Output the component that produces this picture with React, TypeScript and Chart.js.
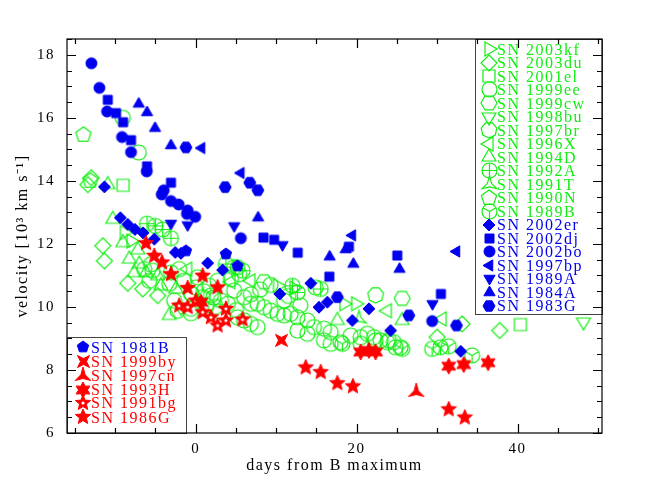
import React, { useEffect, useRef } from "react";
import { Chart, registerables } from "chart.js";
Chart.register(...registerables);

const GREEN = "#11ee11";
const BLUE = "#0000ee";
const RED = "#ff0000";

const xMajorTicks = [0, 20, 40];
const xMinorTicks = [-15, -10, -5, 0, 5, 10, 15, 20, 25, 30, 35, 40, 45, 50];
const yMajorTicks = [6, 8, 10, 12, 14, 16, 18];
const yMinorTicks = [6, 6.5, 7, 7.5, 8, 8.5, 9, 9.5, 10, 10.5, 11, 11.5, 12, 12.5, 13, 13.5, 14, 14.5, 15, 15.5, 16, 16.5, 17, 17.5, 18, 18.5];

// ---- red (faint) ----
const sn1999by = [[10.66, 8.94]];
const sn1997cn = [[27.41, 7.3]];
const sn1993H = [[0.65, 10.15], [20.5, 8.57], [21.53, 8.62], [22.36, 8.57], [31.45, 8.12], [33.31, 8.17], [36.34, 8.23]];
const sn1991bg = [[-2.05, 10.04], [-1.0, 9.99], [0.02, 10.2], [0.86, 9.83], [1.89, 9.67], [2.72, 9.41], [3.75, 9.57], [3.75, 9.94], [5.82, 9.6]];
const sn1986G = [[-6.18, 12.02], [-5.15, 11.62], [-4.19, 11.41], [-3.08, 11.04], [-1.0, 10.6], [0.86, 10.99], [2.72, 10.62], [13.67, 8.08], [15.53, 7.93], [17.6, 7.58], [19.54, 7.48], [31.45, 6.75], [33.44, 6.49]];

// ---- blue (HVG) ----
const sn2002er = [[-11.35, 13.81], [-9.37, 12.83], [-8.45, 12.62], [-7.54, 12.46], [-6.55, 12.35], [-5.15, 12.15], [-2.54, 11.73], [-1.84, 11.7], [1.48, 11.39], [3.34, 11.17], [10.45, 10.41], [14.3, 10.75], [15.32, 9.99], [16.36, 10.15], [19.47, 9.57], [21.53, 9.94], [24.22, 9.25], [32.94, 8.59]];
const sn2002dj = [[-10.93, 16.57], [-9.9, 16.15], [-9.03, 15.86], [-8.04, 15.29], [-6.05, 14.46], [-3.08, 13.94], [8.42, 12.2], [9.74, 12.13], [12.68, 11.72], [16.61, 10.96], [19.04, 11.91], [25.05, 11.63], [30.48, 10.41]];
const sn2002bo = [[-12.97, 17.73], [-11.97, 16.95], [-11.02, 16.2], [-9.16, 15.39], [-8.04, 14.91], [-6.09, 14.3], [-3.98, 13.7], [-4.23, 13.57], [-3.08, 13.36], [-2.12, 13.25], [-1.0, 13.06], [-1.09, 12.95], [-0.06, 12.86], [5.61, 12.18], [29.39, 9.55]];
const sn1997bp = [[0.73, 15.04], [5.61, 14.25], [19.47, 12.27], [32.41, 11.76]];
const sn1989A = [[-3.08, 12.65], [-1.0, 12.6], [4.78, 12.57], [10.78, 11.97], [29.43, 10.1]];
const sn1984A = [[-7.08, 16.44], [-6.05, 16.17], [-5.06, 15.67], [-3.08, 15.12], [7.75, 12.83], [16.65, 11.59], [18.64, 11.82], [19.59, 11.36], [25.33, 11.2]];
const sn1983G = [[-1.22, 15.06], [3.66, 13.8], [6.72, 13.94], [7.72, 13.7], [17.6, 10.31], [26.49, 9.73], [32.41, 9.41]];
const sn1981B = [[-1.22, 11.78], [3.75, 11.68], [5.2, 11.3]];

// ---- green (LVG) ----
const sn2003kf = [[-8.87, 12.36], [-8.04, 12.09], [10.16, 10.67], [12.22, 10.6], [18.42, 10.1], [19.88, 10.1]];
const sn2003du = [[-13.0, 14.1], [-13.41, 13.88], [-11.55, 11.94], [-11.35, 11.46], [-8.45, 10.75], [-6.59, 10.57], [-4.73, 10.36], [30.01, 9.04], [33.11, 9.46], [37.78, 9.25]];
const sn2001el = [[-9.03, 13.86], [40.35, 9.44]];
const sn1999ee = [[-9.07, 16.0], [-7.08, 14.9], [-5.77, 10.83], [-5.35, 11.15], [-3.29, 10.73], [-1.43, 10.83], [0.24, 10.94], [0.02, 10.62], [1.67, 10.67], [2.72, 10.83], [4.37, 10.88], [4.78, 10.52], [-2.67, 10.2], [-0.6, 9.94], [3.13, 10.2], [5.2, 11.26], [5.4, 11.04], [6.02, 10.31], [6.85, 10.1], [7.68, 10.1], [8.5, 9.99], [9.33, 9.88], [10.16, 9.78], [10.98, 9.73], [11.81, 9.78], [12.64, 9.67], [13.88, 9.57], [14.7, 9.36], [15.94, 9.31], [16.77, 9.2], [14.91, 10.62], [19.26, 9.09], [20.5, 9.04], [21.33, 9.15], [22.15, 9.04], [22.98, 8.94], [23.81, 8.88], [24.63, 8.88], [25.46, 8.72], [5.2, 9.67], [6.02, 9.57], [6.85, 9.46], [7.68, 9.36], [12.64, 9.25], [13.88, 9.15], [15.94, 8.94], [16.77, 8.83], [18.01, 8.88], [20.5, 8.83], [22.36, 8.94], [24.0, 8.94], [24.84, 8.72], [1.3, 10.05], [2.5, 10.0], [3.0, 9.85], [4.0, 10.1], [5.0, 9.9], [-0.5, 10.4], [1.0, 10.5], [2.2, 10.3], [-6.4, 11.2], [-5.56, 11.35], [-2.05, 11.2], [-0.6, 10.44], [0.86, 10.31], [1.89, 10.36], [-0.6, 9.8], [-2.25, 9.88], [9.3, 10.7], [6.85, 10.4], [10.98, 10.2], [13.0, 10.05], [8.0, 10.55], [11.5, 10.35]];
const sn1999cw = [[8.5, 10.8], [25.67, 10.27]];
const sn1998bu = [[-1.84, 9.99], [48.2, 9.52]];
const sn1997br = [[22.36, 10.38]];
const sn1996X = [[-1.0, 11.2], [4.37, 10.8], [6.85, 10.83], [23.81, 9.88], [30.63, 9.62]];
const sn1994D = [[-10.93, 13.88], [-10.31, 12.78], [-9.07, 12.04], [-8.25, 11.52], [-7.01, 11.36], [-7.63, 11.09], [-6.18, 11.09], [-4.73, 10.99], [-4.32, 10.67], [-2.46, 10.57], [-3.29, 9.73], [-7.2, 11.81], [17.6, 9.57], [25.67, 9.57]];
const sn1992A = [[-6.05, 12.64], [-5.02, 12.57], [-4.11, 12.46], [-3.08, 12.18], [-3.08, 11.09], [3.75, 11.36], [4.78, 11.26], [5.82, 11.15], [12.02, 10.67], [12.64, 10.46], [15.53, 10.57]];
const sn1991T = [[20.29, 9.62]];
const sn1990N = [[-13.96, 15.46], [-13.1, 14.0]];
const sn1989B = [[18.23, 8.83], [25.67, 8.67], [29.39, 8.67], [30.42, 8.72], [31.45, 8.75], [34.35, 8.46]];

type Series = { name: string; data: number[][]; color: string; kind: string; filled: boolean; r: number };

const greenSeries: Series[] = [
  { name: "2003kf", data: sn2003kf, color: GREEN, kind: "triR", filled: false, r: 8 },
  { name: "2003du", data: sn2003du, color: GREEN, kind: "diamond", filled: false, r: 8 },
  { name: "2001el", data: sn2001el, color: GREEN, kind: "square", filled: false, r: 6 },
  { name: "1999ee", data: sn1999ee, color: GREEN, kind: "circle", filled: false, r: 7.5 },
  { name: "1999cw", data: sn1999cw, color: GREEN, kind: "hex", filled: false, r: 8 },
  { name: "1998bu", data: sn1998bu, color: GREEN, kind: "triD", filled: false, r: 8 },
  { name: "1997br", data: sn1997br, color: GREEN, kind: "hept", filled: false, r: 8 },
  { name: "1996X", data: sn1996X, color: GREEN, kind: "triL", filled: false, r: 8 },
  { name: "1994D", data: sn1994D, color: GREEN, kind: "triU", filled: false, r: 8 },
  { name: "1992A", data: sn1992A, color: GREEN, kind: "circPlus", filled: false, r: 7.5 },
  { name: "1991T", data: sn1991T, color: GREEN, kind: "star3", filled: false, r: 8.5 },
  { name: "1990N", data: sn1990N, color: GREEN, kind: "pent", filled: false, r: 8 },
  { name: "1989B", data: sn1989B, color: GREEN, kind: "circY", filled: false, r: 7.5 },
];
const blueSeries: Series[] = [
  { name: "2002er", data: sn2002er, color: BLUE, kind: "diamond", filled: true, r: 6 },
  { name: "2002dj", data: sn2002dj, color: BLUE, kind: "square", filled: true, r: 4.5 },
  { name: "2002bo", data: sn2002bo, color: BLUE, kind: "circle", filled: true, r: 5.5 },
  { name: "1997bp", data: sn1997bp, color: BLUE, kind: "triL", filled: true, r: 6.5 },
  { name: "1989A", data: sn1989A, color: BLUE, kind: "triD", filled: true, r: 6.5 },
  { name: "1984A", data: sn1984A, color: BLUE, kind: "triU", filled: true, r: 6.5 },
  { name: "1983G", data: sn1983G, color: BLUE, kind: "hex", filled: true, r: 6 },
];
const lowerSeries: Series[] = [
  { name: "1981B", data: sn1981B, color: BLUE, kind: "pent", filled: true, r: 6 },
  { name: "1999by", data: sn1999by, color: RED, kind: "star4", filled: true, r: 8.5 },
  { name: "1997cn", data: sn1997cn, color: RED, kind: "star3", filled: true, r: 9 },
  { name: "1993H", data: sn1993H, color: RED, kind: "star6", filled: true, r: 8 },
  { name: "1991bg", data: sn1991bg, color: RED, kind: "star5dot", filled: true, r: 8 },
  { name: "1986G", data: sn1986G, color: RED, kind: "star5", filled: true, r: 8 },
];

function polygon(ctx: CanvasRenderingContext2D, n: number, r: number, startDeg: number) {
  for (let i = 0; i < n; i++) {
    const a = ((startDeg + (360 * i) / n) * Math.PI) / 180;
    const px = r * Math.cos(a), py = r * Math.sin(a);
    if (i === 0) ctx.moveTo(px, py); else ctx.lineTo(px, py);
  }
  ctx.closePath();
}
function star(ctx: CanvasRenderingContext2D, n: number, r: number, inner: number, startDeg: number) {
  for (let i = 0; i < 2 * n; i++) {
    const a = ((startDeg + (180 * i) / n) * Math.PI) / 180;
    const rr = i % 2 === 0 ? r : r * inner;
    const px = rr * Math.cos(a), py = rr * Math.sin(a);
    if (i === 0) ctx.moveTo(px, py); else ctx.lineTo(px, py);
  }
  ctx.closePath();
}

function makeMarker(kind: string, r: number, color: string, filled: boolean): HTMLCanvasElement {
  const pad = 3;
  const size = Math.ceil(2 * r + 2 * pad);
  const c = document.createElement("canvas");
  c.width = size; c.height = size;
  const ctx = c.getContext("2d")!;
  ctx.translate(size / 2, size / 2);
  ctx.lineWidth = filled ? 1 : 1.2;
  ctx.strokeStyle = color; ctx.fillStyle = color;
  ctx.beginPath();
  switch (kind) {
    case "circle": case "circPlus": case "circY": ctx.arc(0, 0, r, 0, Math.PI * 2); break;
    case "square": ctx.rect(-r, -r, 2 * r, 2 * r); break;
    case "diamond": polygon(ctx, 4, r, -90); break;
    case "triU": polygon(ctx, 3, r, -90); break;
    case "triD": polygon(ctx, 3, r, 90); break;
    case "triL": polygon(ctx, 3, r, 180); break;
    case "triR": polygon(ctx, 3, r, 0); break;
    case "hex": polygon(ctx, 6, r, 0); break;
    case "pent": polygon(ctx, 5, r, -90); break;
    case "hept": polygon(ctx, 7, r, 90); break;
    case "star3": star(ctx, 3, r, 0.28, -90); break;
    case "star4": star(ctx, 4, r, 0.35, -45); break;
    case "star5": case "star5dot": star(ctx, 5, r, 0.45, -90); break;
    case "star6": star(ctx, 6, r, 0.55, -90); break;
  }
  if (filled) ctx.fill();
  ctx.stroke();
  if (kind === "circPlus") {
    ctx.beginPath();
    ctx.moveTo(-r, 0); ctx.lineTo(r, 0); ctx.moveTo(0, -r); ctx.lineTo(0, r);
    ctx.stroke();
  }
  if (kind === "circY") {
    ctx.beginPath();
    for (const d of [90, 210, 330]) {
      const a = (d * Math.PI) / 180;
      ctx.moveTo(0, 0); ctx.lineTo(r * Math.cos(a), r * Math.sin(a));
    }
    ctx.stroke();
  }
  if (kind === "star5dot") {
    ctx.fillStyle = "#fff";
    ctx.beginPath(); ctx.arc(0, 0, r * 0.2, 0, Math.PI * 2); ctx.fill();
  }
  return c;
}

const FONT = "Liberation Serif";

export default function App() {
  const ref = useRef<HTMLCanvasElement>(null);
  useEffect(() => {
    document.body.style.margin = "0";
    const canvas = ref.current!;
    const all = [...lowerSeries, ...blueSeries, ...greenSeries];
    const markers = new Map<string, HTMLCanvasElement>();
    for (const s of all) markers.set(s.name, makeMarker(s.kind, s.r, s.color, s.filled));

    const drawLegend = (ctx: CanvasRenderingContext2D, entries: Series[], x0: number, y0: number, x1: number, y1: number, symX: number, textX: number, ys: number[]) => {
      ctx.fillStyle = "#fff";
      ctx.fillRect(x0, y0, x1 - x0, y1 - y0);
      ctx.strokeStyle = "#444"; ctx.lineWidth = 1;
      ctx.strokeRect(x0 + 0.5, y0 + 0.5, x1 - x0, y1 - y0);
      ctx.font = `16px "${FONT}"`;
      (ctx as any).letterSpacing = "1.5px";
      ctx.textBaseline = "middle"; ctx.textAlign = "left";
      entries.forEach((s, i) => {
        const m = markers.get(s.name)!;
        ctx.drawImage(m, Math.round(symX - m.width / 2), Math.round(ys[i] - m.height / 2));
        ctx.fillStyle = s.color;
        ctx.fillText("SN " + s.name, textX, ys[i] + 1);
      });
      (ctx as any).letterSpacing = "0px";
    };

    const framePlugin = {
      id: "frame",
      beforeDraw(chart: any) {
        (chart.ctx as any).letterSpacing = "1.5px";
      },
      afterDatasetsDraw(chart: any) {
        const ctx: CanvasRenderingContext2D = chart.ctx;
        const { left, right, top, bottom } = chart.chartArea;
        const xs = chart.scales.x, ysc = chart.scales.y;
        ctx.save();
        const topEntries = [...greenSeries, ...blueSeries];
        drawLegend(ctx, topEntries, 475, top, right, 314, 489, 497, topEntries.map((_, i) => 49.3 + 13.5 * i));
        drawLegend(ctx, lowerSeries, left, 337, 186, bottom, 83, 91, [347.3, 361.7, 375.7, 390, 403, 417.3]);
        ctx.strokeStyle = "#000"; ctx.lineWidth = 1.2;
        ctx.strokeRect(left, top, right - left, bottom - top);
        ctx.beginPath();
        for (const v of xMinorTicks) {
          const px = Math.round(xs.getPixelForValue(v)) + 0.5;
          const L = xMajorTicks.includes(v) ? 9 : 5;
          ctx.moveTo(px, bottom); ctx.lineTo(px, bottom - L);
          ctx.moveTo(px, top); ctx.lineTo(px, top + L);
        }
        for (const v of yMinorTicks) {
          const py = Math.round(ysc.getPixelForValue(v)) + 0.5;
          const L = yMajorTicks.includes(v) ? 9 : 5;
          ctx.moveTo(left, py); ctx.lineTo(left + L, py);
          ctx.moveTo(right, py); ctx.lineTo(right - L, py);
        }
        ctx.stroke();
        ctx.restore();
      },
    };

    const chart = new Chart(canvas, {
      type: "scatter",
      data: {
        datasets: all.map((s) => ({
          label: s.name,
          data: s.data.map(([x, y]) => ({ x, y })),
          pointStyle: markers.get(s.name) as any,
          pointRadius: s.r,
          borderColor: s.color,
          backgroundColor: s.color,
        })),
      },
      options: {
        animation: false,
        responsive: false,
        maintainAspectRatio: false,
        events: [],
        layout: { padding: { left: 0, right: 52, top: 39, bottom: 0 } },
        plugins: { legend: { display: false }, tooltip: { enabled: false } },
        scales: {
          x: {
            type: "linear", position: "bottom", min: -16, max: 50.5,
            afterBuildTicks: (s: any) => { s.ticks = xMajorTicks.map((v) => ({ value: v })); },
            afterFit: (s: any) => { s.height = 56; },
            grid: { display: false, drawTicks: false },
            border: { display: false },
            ticks: { color: "#000", font: { family: FONT, size: 15 }, padding: 7, maxRotation: 0, autoSkip: false },
            title: { display: true, text: "days from B maximum", color: "#000", font: { family: FONT, size: 16 }, padding: { top: 0, bottom: 14 } },
          },
          y: {
            type: "linear", position: "left", min: 6, max: 18.5,
            afterBuildTicks: (s: any) => { s.ticks = yMajorTicks.map((v) => ({ value: v })); },
            afterFit: (s: any) => { s.width = 67; },
            grid: { display: false, drawTicks: false },
            border: { display: false },
            ticks: { color: "#000", font: { family: FONT, size: 15 }, padding: 12, autoSkip: false },
            title: { display: true, text: "velocity [10³ km s⁻¹]", color: "#000", font: { family: FONT, size: 16 }, padding: { top: 13, bottom: 0 } },
          },
        },
      },
      plugins: [framePlugin],
    });
    return () => chart.destroy();
  }, []);
  return <canvas ref={ref} width={654} height={489} style={{ display: "block" }} />;
}
